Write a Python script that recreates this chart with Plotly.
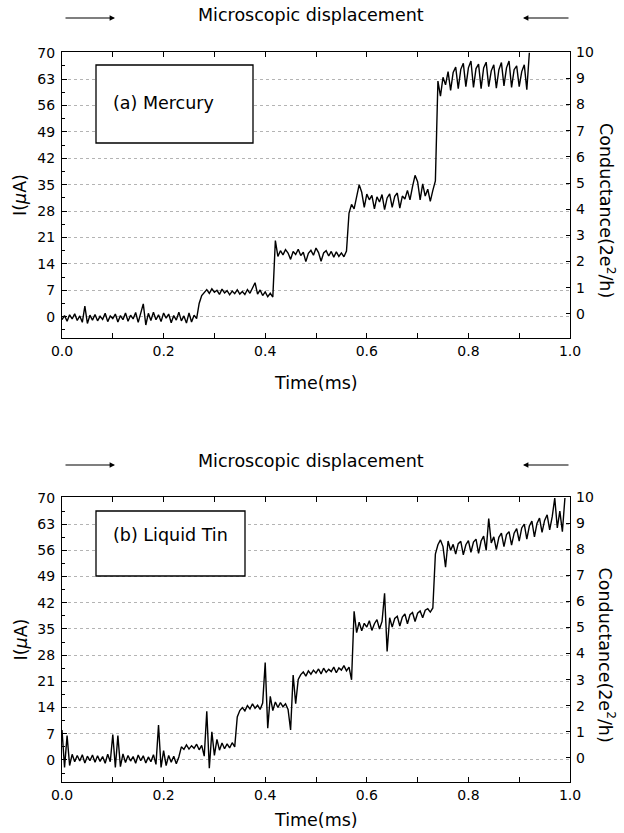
import plotly.graph_objects as go

# ---------------- data ----------------
# time in ms, current in microampere
t_a = [0.000, 0.005, 0.010, 0.015, 0.020, 0.025, 0.030, 0.035, 0.040, 0.045,
       0.050, 0.055, 0.060, 0.065, 0.070, 0.075, 0.080, 0.085, 0.090, 0.095,
       0.100, 0.105, 0.110, 0.115, 0.120, 0.125, 0.130, 0.135, 0.140, 0.145,
       0.150, 0.155, 0.160, 0.165, 0.170, 0.175, 0.180, 0.185, 0.190, 0.195,
       0.200, 0.205, 0.210, 0.215, 0.220, 0.225, 0.230, 0.235, 0.240, 0.245,
       0.250, 0.255, 0.260, 0.265, 0.270, 0.275, 0.280, 0.285, 0.290, 0.295,
       0.300, 0.305, 0.310, 0.315, 0.320, 0.325, 0.330, 0.335, 0.340, 0.345,
       0.350, 0.355, 0.360, 0.365, 0.370, 0.375, 0.380, 0.385, 0.390, 0.395,
       0.400, 0.405, 0.410, 0.415, 0.420, 0.425, 0.430, 0.435, 0.440, 0.445,
       0.450, 0.455, 0.460, 0.465, 0.470, 0.475, 0.480, 0.485, 0.490, 0.495,
       0.500, 0.505, 0.510, 0.515, 0.520, 0.525, 0.530, 0.535, 0.540, 0.545,
       0.550, 0.555, 0.560, 0.565, 0.570, 0.575, 0.580, 0.585, 0.590, 0.595,
       0.600, 0.605, 0.610, 0.615, 0.620, 0.625, 0.630, 0.635, 0.640, 0.645,
       0.650, 0.655, 0.660, 0.665, 0.670, 0.675, 0.680, 0.685, 0.690, 0.695,
       0.700, 0.705, 0.710, 0.715, 0.720, 0.725, 0.730, 0.735, 0.740, 0.745,
       0.750, 0.755, 0.760, 0.765, 0.770, 0.775, 0.780, 0.785, 0.790, 0.795,
       0.800, 0.805, 0.810, 0.815, 0.820, 0.825, 0.830, 0.835, 0.840, 0.845,
       0.850, 0.855, 0.860, 0.865, 0.870, 0.875, 0.880, 0.885, 0.890, 0.895,
       0.900, 0.905, 0.910, 0.915, 0.920]
i_mercury = [-0.8, 0.3, -1.2, 0.5, -0.6, 0.8, -1.0, 0.2, -1.5, 2.8,
             -1.8, 0.4, -0.9, 0.6, -1.1, 0.1, -0.7, 0.9, -1.3, 0.2,
             -0.5, 0.7, -1.4, 0.3, -0.8, 1.0, -1.2, 0.4, -0.6, 1.1,
             -1.5, 0.8, 3.4, -2.2, 0.9, -1.0, 1.2, -0.8, 0.5, -1.3,
             1.0, -0.4, 0.7, -1.6, 0.3, -0.9, 1.2, -1.1, 0.2, -1.7,
             1.0, -1.4, 0.4, -0.5, 3.5, 5.6, 6.4, 7.2, 6.2, 7.4,
             6.5, 7.0, 5.9, 7.3, 6.3, 6.9, 5.8, 6.8, 6.1, 7.1,
             6.0, 6.7, 5.9, 7.2, 6.2, 7.6, 9.0, 6.0, 7.1, 5.6,
             6.6, 5.3, 6.2, 5.2, 20.2, 16.0, 17.5, 16.4, 17.8, 16.9,
             15.2, 17.3, 16.5, 17.9, 16.2, 17.1, 14.6, 16.8, 17.6, 16.3,
             18.2, 17.0, 14.7, 16.9, 17.5, 16.1, 17.3, 15.8, 17.2, 16.0,
             16.9, 15.9, 17.4, 27.5, 29.8, 28.6, 31.5, 35.0, 33.0, 29.0,
             32.5, 31.0, 32.2, 28.6, 31.8, 30.4, 32.4, 28.4, 31.5, 32.6,
             29.0, 31.9, 32.8, 28.8, 32.0, 31.2, 33.5, 31.0, 34.5, 37.5,
             35.8, 31.0, 35.2, 32.0, 33.8, 30.6, 33.5, 36.0, 62.5, 58.5,
             63.5, 61.5, 65.0, 60.0, 64.8, 66.2, 60.5, 65.6, 67.2, 61.0,
             66.0, 67.8, 60.8, 65.8, 67.0, 60.5, 66.0, 67.5, 61.0, 65.2,
             66.8, 60.6, 65.5, 67.4, 61.2, 66.0, 67.8, 60.8, 65.5, 66.5,
             61.0, 65.0, 66.8, 60.2, 70.0]

t_b = [0.000, 0.005, 0.010, 0.015, 0.020, 0.025, 0.030, 0.035, 0.040, 0.045,
       0.050, 0.055, 0.060, 0.065, 0.070, 0.075, 0.080, 0.085, 0.090, 0.095,
       0.100, 0.105, 0.110, 0.115, 0.120, 0.125, 0.130, 0.135, 0.140, 0.145,
       0.150, 0.155, 0.160, 0.165, 0.170, 0.175, 0.180, 0.185, 0.190, 0.195,
       0.200, 0.205, 0.210, 0.215, 0.220, 0.225, 0.230, 0.235, 0.240, 0.245,
       0.250, 0.255, 0.260, 0.265, 0.270, 0.275, 0.280, 0.285, 0.290, 0.295,
       0.300, 0.305, 0.310, 0.315, 0.320, 0.325, 0.330, 0.335, 0.340, 0.345,
       0.350, 0.355, 0.360, 0.365, 0.370, 0.375, 0.380, 0.385, 0.390, 0.395,
       0.400, 0.405, 0.410, 0.415, 0.420, 0.425, 0.430, 0.435, 0.440, 0.445,
       0.450, 0.455, 0.460, 0.465, 0.470, 0.475, 0.480, 0.485, 0.490, 0.495,
       0.500, 0.505, 0.510, 0.515, 0.520, 0.525, 0.530, 0.535, 0.540, 0.545,
       0.550, 0.555, 0.560, 0.565, 0.570, 0.575, 0.580, 0.585, 0.590, 0.595,
       0.600, 0.605, 0.610, 0.615, 0.620, 0.625, 0.630, 0.635, 0.640, 0.645,
       0.650, 0.655, 0.660, 0.665, 0.670, 0.675, 0.680, 0.685, 0.690, 0.695,
       0.700, 0.705, 0.710, 0.715, 0.720, 0.725, 0.730, 0.735, 0.740, 0.745,
       0.750, 0.755, 0.760, 0.765, 0.770, 0.775, 0.780, 0.785, 0.790, 0.795,
       0.800, 0.805, 0.810, 0.815, 0.820, 0.825, 0.830, 0.835, 0.840, 0.845,
       0.850, 0.855, 0.860, 0.865, 0.870, 0.875, 0.880, 0.885, 0.890, 0.895,
       0.900, 0.905, 0.910, 0.915, 0.920, 0.925, 0.930, 0.935, 0.940, 0.945,
       0.950, 0.955, 0.960, 0.965, 0.970, 0.975, 0.980, 0.985, 0.990]
i_tin = [8.0, -2.0, 6.5, -1.5, 1.5, -0.5, 1.2, -0.3, 1.4, -0.8,
         1.0, -0.2, 1.3, -0.6, 1.1, -0.4, 0.9, -0.9, 1.5, -0.5,
         6.8, -2.0, 6.5, -1.8, 1.6, -0.7, 1.2, -0.3, 0.9, -0.9,
         1.3, -0.2, 1.1, -0.8, 0.8, -0.5, 1.4, -1.2, 9.3, -2.0,
         2.5, -1.5, 1.2, -0.6, 1.0, -1.0, 0.8, 3.5, 2.8, 4.0,
         2.9, 3.8, 3.1, 4.2, 2.7, 3.9, 1.0, 13.0, -2.2, 7.5,
         1.2, 5.5, 2.6, 4.5, 3.0, 4.3, 3.2, 4.6, 3.5, 11.5,
         13.2, 14.0, 13.1, 14.5, 13.6, 15.0, 13.8, 14.6, 13.5, 15.2,
         26.0, 8.5, 17.0, 13.2, 15.5, 14.0, 15.3, 14.2, 15.0, 13.5,
         8.0, 22.7, 15.0, 21.5, 22.8, 23.5, 22.4, 23.8, 22.9, 24.0,
         23.2, 24.3, 23.0, 24.5, 23.4, 24.2, 23.6, 24.8, 23.3, 24.6,
         24.0, 25.2, 23.8, 24.8, 21.4, 39.7, 34.0, 36.8, 34.5, 36.5,
         35.5, 37.2, 34.6, 36.4, 37.5, 35.0, 37.0, 44.5, 29.0, 38.0,
         35.5, 37.8, 38.4, 35.8, 38.2, 39.0, 36.4, 38.8, 39.4, 37.0,
         39.2, 39.8, 38.0, 40.0, 40.4, 39.5, 40.6, 55.0, 57.5, 58.8,
         57.0, 51.5, 58.5, 56.0, 57.6, 55.0, 57.8, 58.4, 54.8, 57.5,
         58.6, 55.5, 58.2, 59.0, 55.2, 58.5, 59.8, 56.0, 64.5, 58.0,
         59.6, 56.2, 59.5, 60.6, 57.0, 60.2, 61.0, 57.4, 60.6, 61.8,
         58.5, 62.0, 63.0, 59.0, 62.5, 63.8, 59.6, 63.2, 64.6, 60.8,
         64.0, 65.5, 61.5, 65.0, 70.0, 62.0, 66.5, 61.0, 70.0]

current_ticks = [0, 7, 14, 21, 28, 35, 42, 49, 56, 63, 70]
conductance_ticks = [0, 1, 2, 3, 4, 5, 6, 7, 8, 9, 10]
time_ticks = [0.0, 0.2, 0.4, 0.6, 0.8, 1.0]
panel_labels = ["(a) Mercury", "(b) Liquid Tin"]
top_label = "Microscopic displacement"

# ---------------- layout helpers ----------------
W, H = 624, 833
FONT = "DejaVu Sans"


def px(x):
    return x / W


def py(y):
    return 1 - y / H


fig = go.Figure()
fig.add_trace(go.Scatter(x=t_a, y=i_mercury, mode="lines", xaxis="x", yaxis="y",
                         line=dict(color="black", width=1.4), showlegend=False))
fig.add_trace(go.Scatter(x=t_b, y=i_tin, mode="lines", xaxis="x2", yaxis="y2",
                         line=dict(color="black", width=1.4), showlegend=False))
# empty traces so the right-hand conductance axes are drawn
fig.add_trace(go.Scatter(x=[None], y=[None], xaxis="x", yaxis="y3", showlegend=False))
fig.add_trace(go.Scatter(x=[None], y=[None], xaxis="x2", yaxis="y4", showlegend=False))

xdom = [px(62), px(570)]
dom_a = [py(338), py(52)]
dom_b = [py(782), py(497)]

tickfont = dict(family=FONT, size=14, color="black")

xcommon = dict(range=[0, 1.0], tickvals=time_ticks, ticktext=[f"{v:.1f}" for v in time_ticks],
               ticks="inside", ticklen=5, tickwidth=1, tickcolor="black",
               showline=True, linecolor="black", linewidth=1.3, mirror="ticks",
               showgrid=False, zeroline=False, tickfont=tickfont, automargin=False,
               minor=dict(dtick=0.1, ticks="inside", ticklen=5, tickcolor="black", showgrid=False))
ycommon = dict(tickvals=current_ticks, ticks="inside", ticklen=5, tickwidth=1, tickcolor="black",
               showline=True, linecolor="black", linewidth=1.3, mirror=True,
               showgrid=True, gridcolor="#b4b4b4", griddash="dot", gridwidth=1,
               zeroline=False, tickfont=tickfont, automargin=False, ticklabelstandoff=3,
               minor=dict(dtick=3.5, tick0=0, ticks="inside", ticklen=3, tickcolor="black", showgrid=False))
rcommon = dict(tickvals=conductance_ticks, side="right", ticks="inside", ticklen=4,
               tickcolor="black", showline=False, showgrid=False, zeroline=False,
               tickfont=tickfont, automargin=False, ticklabelstandoff=5)

fig.update_layout(
    width=W, height=H, margin=dict(l=0, r=0, t=0, b=0, autoexpand=False),
    paper_bgcolor="white", plot_bgcolor="white",
    font=dict(family=FONT, color="black"),
    xaxis=dict(domain=xdom, anchor="y", **xcommon),
    yaxis=dict(domain=dom_a, anchor="x", range=[-5.65, 70.2], **ycommon),
    yaxis3=dict(domain=dom_a, anchor="x", overlaying="y", range=[-0.92, 10.01], **rcommon),
    xaxis2=dict(domain=xdom, anchor="y2", **xcommon),
    yaxis2=dict(domain=dom_b, anchor="x2", range=[-5.9, 70.26], **ycommon),
    yaxis4=dict(domain=dom_b, anchor="x2", overlaying="y2", range=[-0.93, 10.01], **rcommon),
)

title_font = dict(family=FONT, size=17.5, color="black")
C = dict(xref="paper", yref="paper", xanchor="center", yanchor="middle", showarrow=False,
         font=title_font)
ann = []
shapes = []
for k, (ytop, ybot, ytxt, yarrow, ytime, box, lab_y) in enumerate([
        (52, 338, 15, 18, 383, (96, 65, 253, 143), 103),
        (497, 782, 461, 465, 820, (96, 511, 245, 576), 535)]):
    # top caption and arrows
    ann.append(dict(x=px(311), y=py(ytxt), text=top_label, **C))
    ann.append(dict(x=px(115), y=py(yarrow), ax=-51, ay=0, xref="paper", yref="paper",
                    axref="pixel", ayref="pixel", text="", showarrow=True, arrowhead=2,
                    arrowsize=0.9, arrowwidth=1.2, arrowcolor="black"))
    ann.append(dict(x=px(523), y=py(yarrow), ax=47, ay=0, xref="paper", yref="paper",
                    axref="pixel", ayref="pixel", text="", showarrow=True, arrowhead=2,
                    arrowsize=0.9, arrowwidth=1.2, arrowcolor="black"))
    # axis titles
    ann.append(dict(x=px(316), y=py(ytime), text="Time(ms)", **C))
    ann.append(dict(x=px(20), y=py((ytop + ybot) / 2), text="I(<i>μ</i>A)", textangle=-90, **C))
    ann.append(dict(x=px(607), y=py((ytop + ybot) / 2 + 15), text="Conductance(2e<sup>2</sup>/h)",
                    textangle=90, **C))
    # label box
    x0, y0, x1, y1 = box
    shapes.append(dict(type="rect", xref="paper", yref="paper", x0=px(x0), x1=px(x1),
                       y0=py(y1), y1=py(y0), line=dict(color="black", width=1.3),
                       fillcolor="white", layer="above"))
    ann.append(dict(x=px(111), y=py(lab_y), xref="paper", yref="paper", text=panel_labels[k],
                    showarrow=False, xanchor="left", yanchor="middle", font=title_font))

fig.update_layout(annotations=ann, shapes=shapes)
fig.write_html("out.html")
